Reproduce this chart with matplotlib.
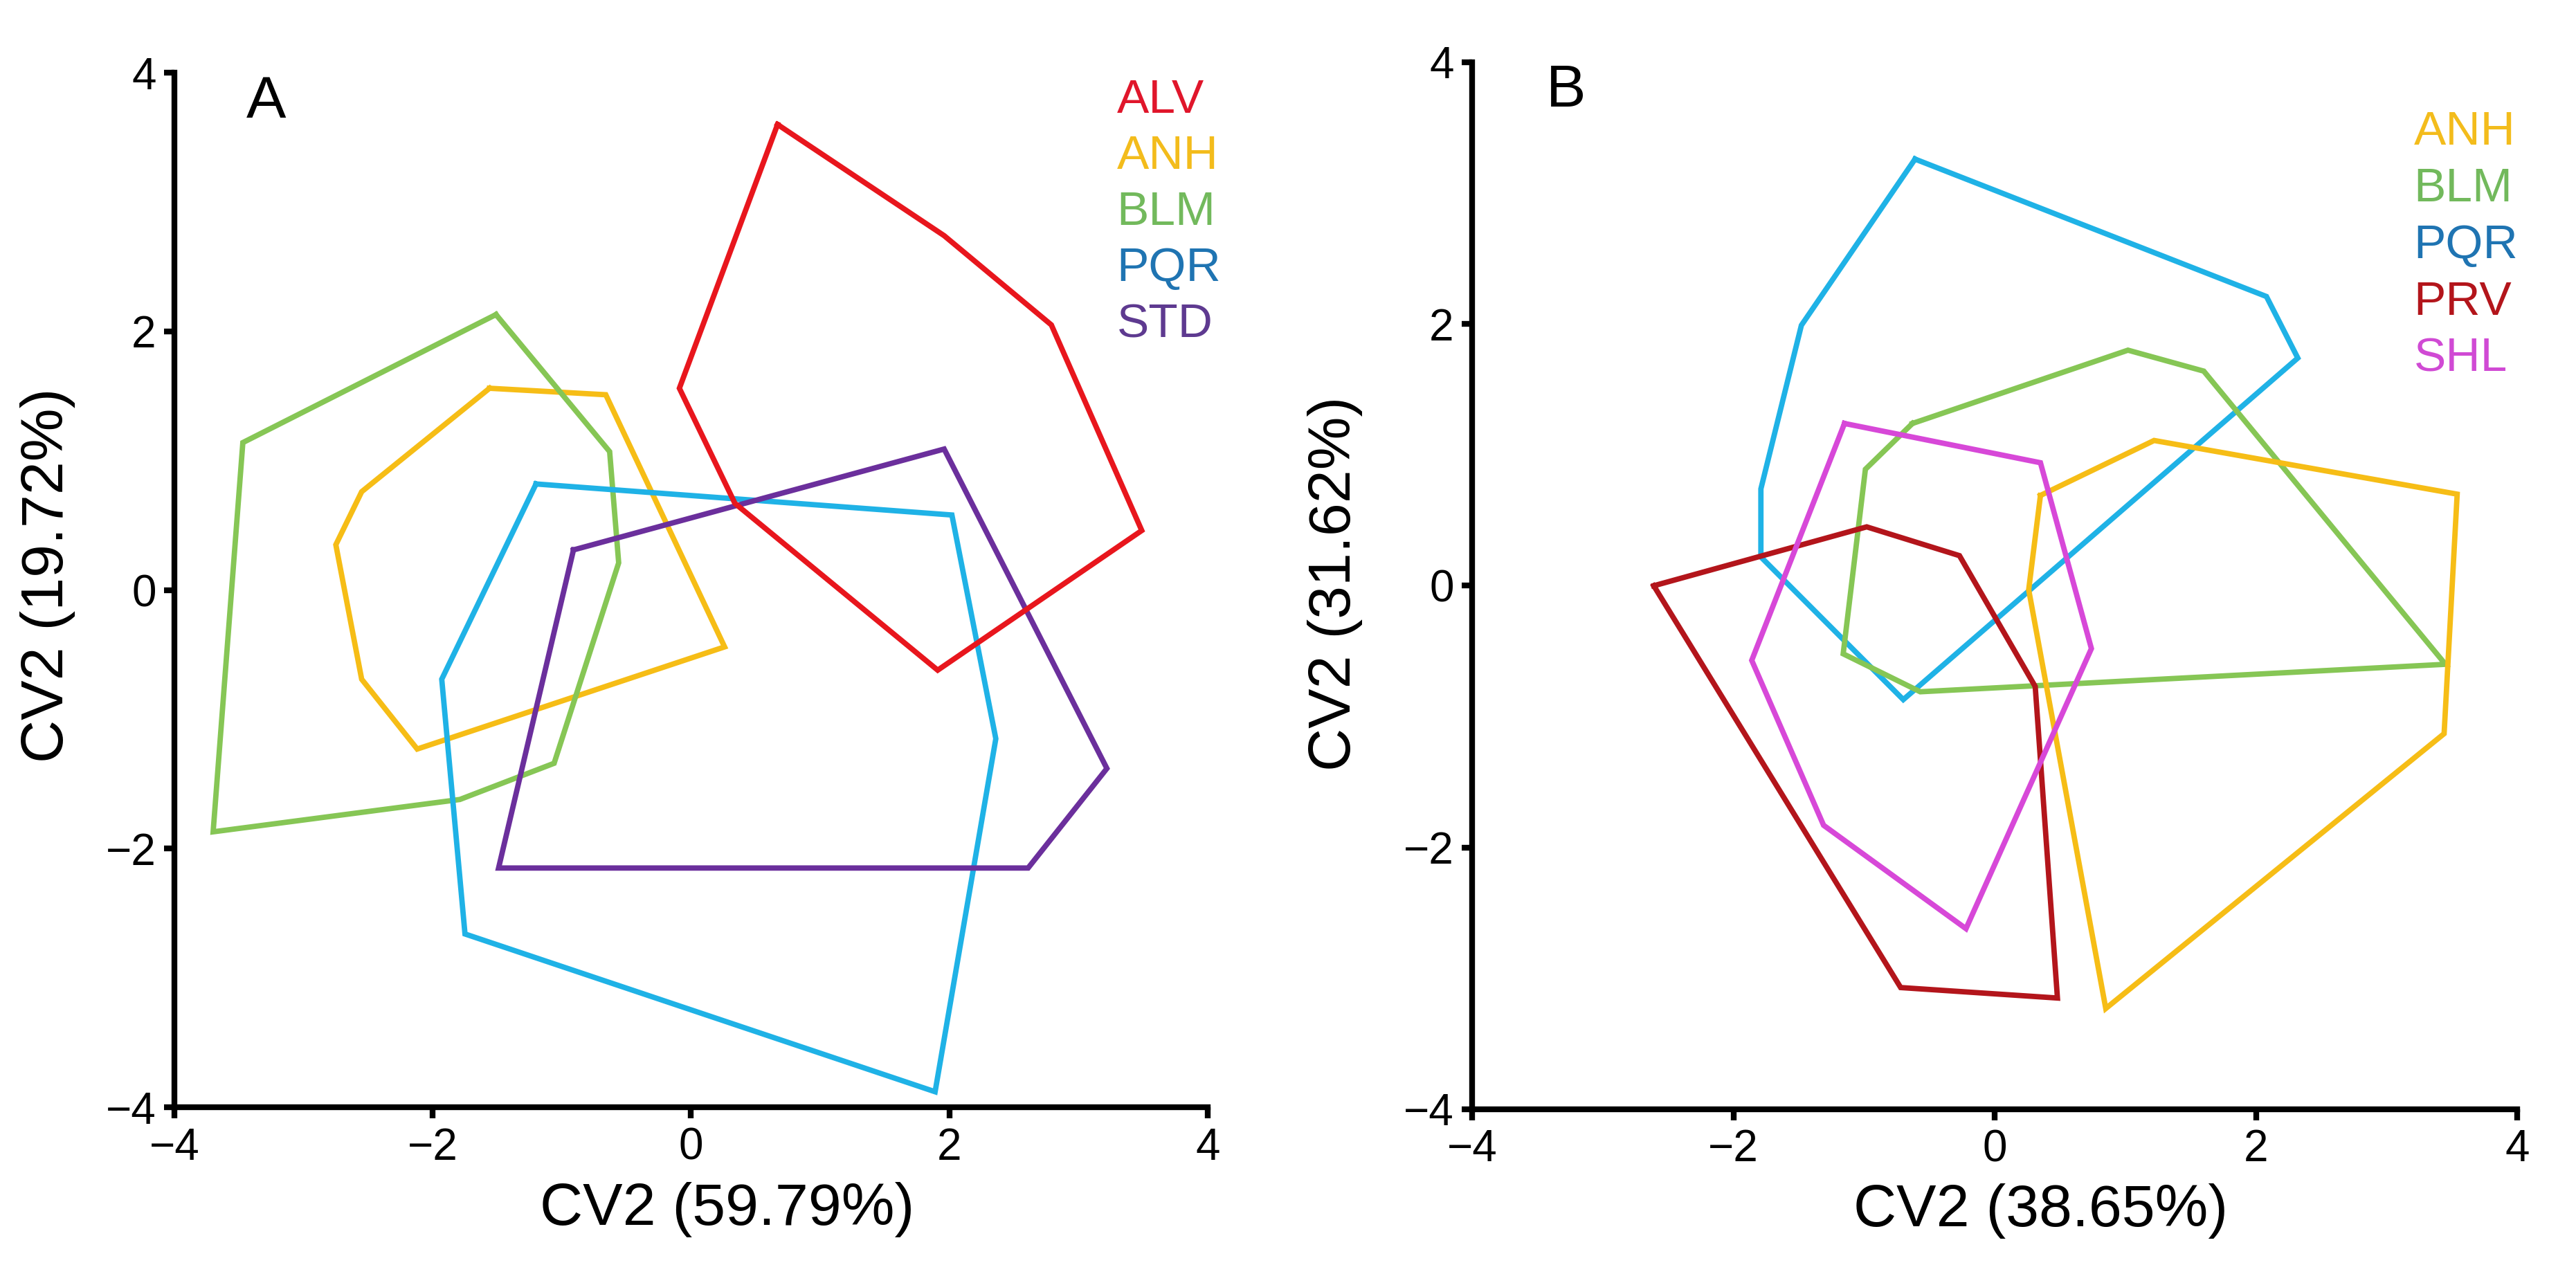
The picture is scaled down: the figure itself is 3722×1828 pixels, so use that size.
import numpy as np
import matplotlib
matplotlib.use("Agg")
import matplotlib.pyplot as plt

plt.rcParams['font.family'] = ['Liberation Sans', 'DejaVu Sans']

# Panel A: convex hulls (CV1, CV2 vertices)
a_groups = ['ALV', 'ANH', 'BLM', 'PQR', 'STD']
a_alv_x = [0.67, 1.96, 2.79, 3.49, 1.91, 0.34, -0.09]
a_alv_y = [3.60, 2.74, 2.05, 0.46, -0.62, 0.67, 1.56]
a_anh_x = [-1.56, -0.66, 0.26, -2.12, -2.55, -2.75, -2.55]
a_anh_y = [1.56, 1.51, -0.44, -1.23, -0.69, 0.35, 0.76]
a_blm_x = [-1.51, -0.63, -0.56, -1.06, -1.79, -3.70, -3.47]
a_blm_y = [2.13, 1.07, 0.21, -1.34, -1.62, -1.87, 1.14]
a_pqr_x = [-1.20, 2.02, 2.36, 1.89, -1.75, -1.93]
a_pqr_y = [0.82, 0.58, -1.15, -3.88, -2.66, -0.69]
a_std_x = [-0.91, 1.96, 3.22, 2.61, -1.49]
a_std_y = [0.31, 1.09, -1.38, -2.15, -2.15]

# Panel B
b_groups = ['ANH', 'BLM', 'PQR', 'PRV', 'SHL']
b_anh_x = [0.35, 1.22, 3.54, 3.44, 0.85, 0.26]
b_anh_y = [0.69, 1.11, 0.70, -1.13, -3.23, -0.03]
b_blm_x = [-0.63, 1.02, 1.60, 3.45, -0.57, -1.16, -0.99]
b_blm_y = [1.24, 1.80, 1.64, -0.60, -0.81, -0.52, 0.89]
b_pqr_x = [-0.61, 2.08, 2.32, -0.70, -1.79, -1.79, -1.48]
b_pqr_y = [3.26, 2.21, 1.74, -0.87, 0.22, 0.74, 1.99]
b_prv_x = [-2.61, -0.98, -0.27, 0.31, 0.48, -0.72]
b_prv_y = [0.00, 0.45, 0.23, -0.77, -3.15, -3.07]
b_shl_x = [-1.15, 0.35, 0.74, -0.22, -1.31, -1.86]
b_shl_y = [1.24, 0.94, -0.48, -2.62, -1.83, -0.57]

line_col = {'ALV': '#e8161d', 'ANH': '#f6bd16', 'BLM': '#86c655', 'PQR': '#1fb2e6',
            'STD': '#6b2f9c', 'PRV': '#b3151b', 'SHL': '#d748d8'}
text_col = {'ALV': '#e0162b', 'ANH': '#f3bc1c', 'BLM': '#72b95c', 'PQR': '#1f74b2',
            'STD': '#5e3a90', 'PRV': '#b3151b', 'SHL': '#d04ad4'}

ticks = [-4, -2, 0, 2, 4]

fig = plt.figure(figsize=(37.22, 18.28), dpi=100)
axA = fig.add_axes([0.0677, 0.1247, 0.4011, 0.8178])
axB = fig.add_axes([0.5715, 0.1231, 0.4057, 0.8277])


def style(ax, xlab, ylab, xl_pos, yl_pos):
    ax.set_xlim(-4, 4)
    ax.set_ylim(-4, 4)
    for s in ['top', 'right']:
        ax.spines[s].set_visible(False)
    for s in ['left', 'bottom']:
        ax.spines[s].set_linewidth(6)
    ax.set_xticks(ticks)
    ax.set_yticks(ticks)
    ax.tick_params(axis='both', direction='out', width=6, labelsize=46)
    ax.tick_params(axis='y', length=11, pad=8)
    ax.tick_params(axis='x', length=11.5, pad=9)
    ax.set_xlabel(xlab, fontsize=62)
    ax.set_ylabel(ylab, fontsize=62)
    ax.xaxis.set_label_coords(*xl_pos)
    ax.yaxis.set_label_coords(*yl_pos)


def hull(ax, xs, ys, name):
    xs = list(xs) + [xs[0]]
    ys = list(ys) + [ys[0]]
    ax.plot(xs, ys, color=line_col[name], lw=5.6, solid_joinstyle='miter', clip_on=False)


for xs, ys, n in [(a_anh_x, a_anh_y, 'ANH'), (a_blm_x, a_blm_y, 'BLM'),
                  (a_pqr_x, a_pqr_y, 'PQR'), (a_std_x, a_std_y, 'STD'),
                  (a_alv_x, a_alv_y, 'ALV')]:
    hull(axA, xs, ys, n)

for xs, ys, n in [(b_pqr_x, b_pqr_y, 'PQR'), (b_blm_x, b_blm_y, 'BLM'),
                  (b_anh_x, b_anh_y, 'ANH'), (b_prv_x, b_prv_y, 'PRV'),
                  (b_shl_x, b_shl_y, 'SHL')]:
    hull(axB, xs, ys, n)

style(axA, 'CV2 (59.79%)', 'CV2 (19.72%)', (0.535, -0.072), (-0.096, 0.514))
style(axB, 'CV2 (38.65%)', 'CV2 (31.62%)', (0.544, -0.071), (-0.105, 0.502))

# panel letters
axA.text(-3.29, 3.77, 'A', fontsize=62, ha='center', va='center')
axB.text(-3.28, 3.78, 'B', fontsize=62, ha='center', va='center')

# coloured group names
for i, n in enumerate(a_groups):
    axA.text(0.912, 0.961 - i * 0.0542, n, transform=axA.transAxes, color=text_col[n],
             fontsize=50, ha='left', va='baseline')
for i, n in enumerate(b_groups):
    axB.text(0.901, 0.921 - i * 0.054, n, transform=axB.transAxes, color=text_col[n],
             fontsize=50, ha='left', va='baseline')

fig.savefig('out.png', dpi=100, facecolor='white')
